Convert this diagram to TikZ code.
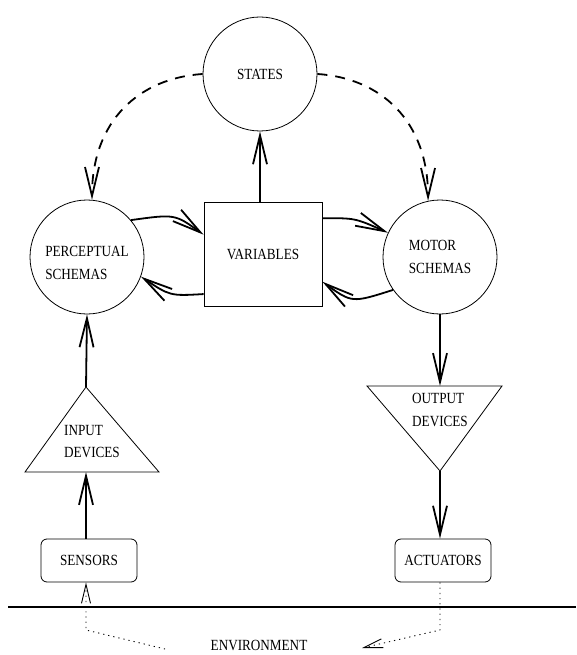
\documentclass[tikz,border=0pt]{standalone}
\usepackage{fontspec}
\setmainfont{Liberation Serif}[FakeStretch=0.85]
\usepackage{tikz}
\usetikzlibrary{arrows.meta, calc}

\begin{document}
\begin{tikzpicture}[
			x=1pt, y=-1pt,
			font=\fontsize{15.5}{22.5}\selectfont,
			schemablock/.style = {circle, draw, line width=0.8pt,
					minimum size=114pt, inner sep=0pt, align=left},
			varblock/.style = {rectangle, draw, line width=0.8pt,
					minimum width=118pt, minimum height=104pt},
			devblock/.style = {rectangle, draw, rounded corners=6pt, line width=0.8pt,
					minimum width=96pt, minimum height=43pt},
			triblock/.style = {draw, line width=0.8pt},
			line/.style = {draw, line width=1.8pt, -{Straight Barb[length=29pt, width=14pt]}},
			dashline/.style = {line, dash pattern=on 10pt off 8pt},
			envline/.style = {draw, line width=0.9pt, dash pattern=on 1.2pt off 4pt,
					-{Straight Barb[length=19pt, width=9pt]}},
		]
		\useasboundingbox (0,0) rectangle (576,655);

		% States and schemas
		\node [schemablock] (states) at (260,74) {STATES};
		\node [schemablock, label={[align=left, yshift=-6pt]center:PERCEPTUAL\\SCHEMAS}]
			(perceptual) at (87,257) {};
		\node [schemablock] (motor) at (440,257) {MOTOR\\SCHEMAS};
		\node [varblock] (variables) at (263,254) {VARIABLES};

		% Devices
		\coordinate (inapex) at (86,387);
		\coordinate (inbase) at (86,472);
		\draw [triblock] (inapex) -- (159,472) -- (25,472) -- cycle;
		\node [align=left] (inputlbl) at (92,441.5) {INPUT\\DEVICES};

		\coordinate (outtop) at (440,386);
		\coordinate (outapex) at (440,471);
		\draw [triblock] (367,386) -- (502,386) -- (outapex) -- cycle;
		\node [align=left] (outputlbl) at (440,410) {OUTPUT\\DEVICES};

		\node [devblock] (sensors) at (89,560.5) {SENSORS};
		\node [devblock] (actuators) at (443,560.5) {ACTUATORS};

		% Environment
		\draw [line width=2.7pt] (8,607) -- (576,607);
		\node [anchor=base, inner sep=0pt] (environment) at (259,650.5) {ENVIRONMENT};
		\coordinate (envleft) at (165,649);
		\coordinate (envright) at (362,648);
		\coordinate (sencorner) at (86,630);
		\coordinate (actcorner) at (440,630);

		% Draw arrows
		\path [dashline] (states.west) .. controls (140,78) and (92,120) .. (perceptual.85);
		\path [dashline] (states.east) .. controls (380,78) and (428,120) .. (motor.102);
		\path [line] (states.south |- variables.north) -- (states.south);
		\path [line] (perceptual.40) .. controls (175,214) .. (variables.162);
		\path [line] (variables.214) .. controls (170,296) .. (perceptual.340);
		\path [line] (variables.31) .. controls (355,218) .. (motor.155);
		\path [line] (motor.215) .. controls (352,303) .. (variables.335);
		\path [line] (inapex) -- (perceptual.south);
		\path [line] (inbase |- sensors.north) -- (inbase);
		\path [line] (motor.south) -- (outtop);
		\path [line] (outapex) -- (outapex |- actuators.north);
		\path [envline] (envleft) -- (sencorner) -- (sencorner |- sensors.south);
		\path [envline] (actcorner |- actuators.south) -- (actcorner) -- (envright);

	\end{tikzpicture}
\end{document}
